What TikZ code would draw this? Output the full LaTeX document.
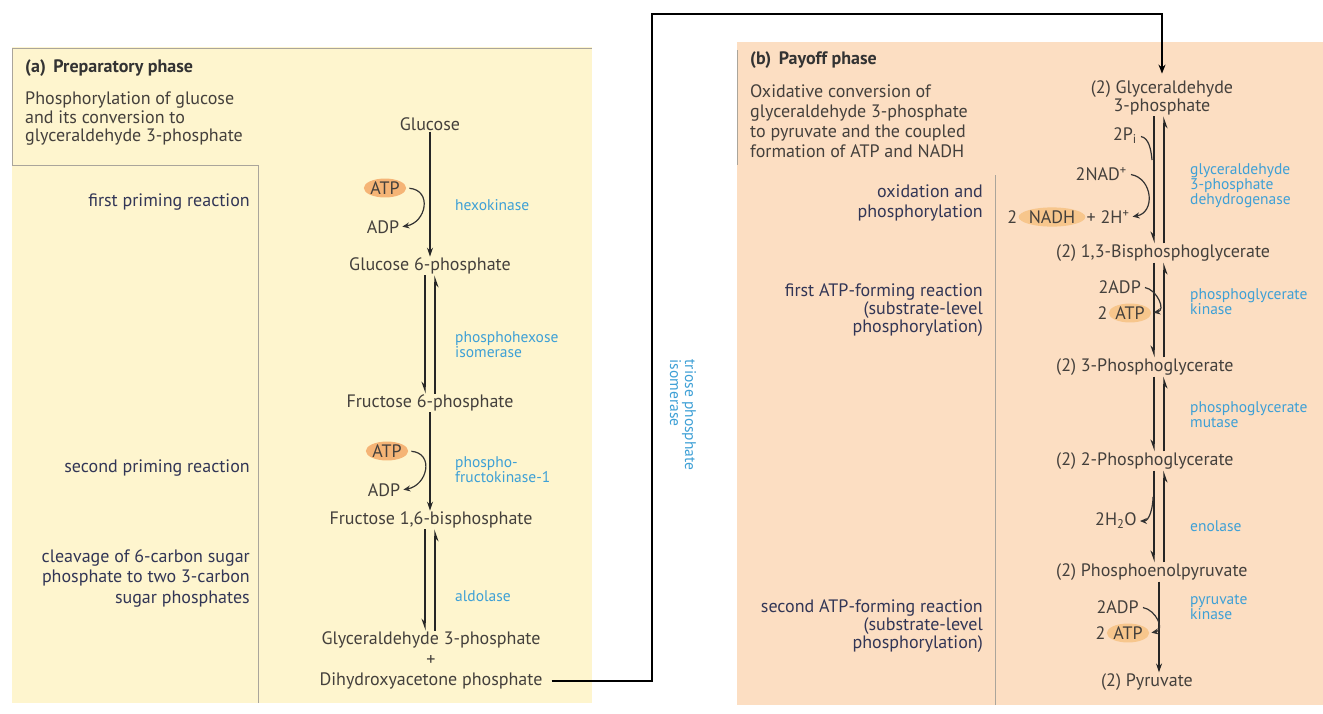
\documentclass[tikz,border=0pt]{standalone}
\usepackage{fontspec}
\setmainfont{PT Sans}
\usetikzlibrary{positioning, arrows.meta, shapes.geometric}

\definecolor{prepbg}{RGB}{254,245,206}
\definecolor{payoffbg}{RGB}{252,222,194}
\definecolor{frameln}{RGB}{170,165,155}
\definecolor{txtc}{RGB}{68,64,60}
\definecolor{labc}{RGB}{50,54,86}
\definecolor{enzc}{RGB}{62,160,214}
\definecolor{hlA}{RGB}{245,180,118}
\definecolor{hlB}{RGB}{247,198,140}

\begin{document}
\begin{tikzpicture}[
    x=1pt, y=-1pt,
    cmpd/.style={font=\fontsize{18}{18}\selectfont, text=txtc, inner sep=1pt, align=center},
    lab/.style={font=\fontsize{18}{18}\selectfont, text=labc, align=right, anchor=east, inner sep=0pt},
    enz/.style={font=\fontsize{15.5}{15}\selectfont, text=enzc, align=left, anchor=west, inner sep=0pt},
    desc/.style={font=\fontsize{18}{18.5}\selectfont, text=txtc, align=left, anchor=west, inner sep=0pt},
    head/.style={font=\bfseries\fontsize{18}{18}\selectfont, text=black!80, anchor=west, inner sep=0pt},
    hl/.style={ellipse, fill=hlA, inner sep=0.3pt},
    fwd/.style={-{Stealth[length=9pt,width=6pt]}, line width=1.3pt, draw=black!85},
    rev/.style={-{Stealth[harpoon,swap,length=10pt,width=7pt]}, line width=1.3pt, draw=black!85},
    side/.style={-{Stealth[length=7pt,width=6pt]}, line width=1.2pt, draw=black!80, shorten <=3pt, shorten >=2pt},
    sideln/.style={line width=1.2pt, draw=black!80, shorten <=3pt},
    link/.style={-{Stealth[length=9pt,width=7pt]}, line width=1.7pt, shorten <=8pt, shorten >=6pt},
    frame/.style={draw=frameln, line width=0.9pt},
]
\useasboundingbox (0,0) rectangle (1323,713);
\fill[white] (0,0) rectangle (1323,713);

% panel backgrounds
\fill[prepbg] (12,47) rectangle (592,703);
\fill[payoffbg] (737,42) rectangle (1323,705);
\draw[frame] (12,165) -- (12,48) -- (592,48);
\draw[frame] (12,165) -- (258,165) -- (258,703);
\draw[frame] (737,50) -- (737,165);
\draw[frame] (995,175) -- (995,705);

% columns for the arrows
\coordinate (colA) at (430,0);
\coordinate (colAd) at (425,0);
\coordinate (colAu) at (435,0);
\coordinate (colB) at (1159,0);
\coordinate (colBd) at (1154,0);
\coordinate (colBu) at (1164,0);

% (a) preparatory phase
\node[head] (titA) at (25,68) {(a)\, Preparatory phase};
\node[desc] (descA) at (25,119) {Phosphorylation of glucose\\and its conversion to\\glyceraldehyde 3-phosphate};

\node[lab] (prime1) at (250,202) {first priming reaction};
\node[lab] (prime2) at (250,468) {second priming reaction};
\node[lab, font=\fontsize{18}{20.5}\selectfont] (cleave) at (250,578) {cleavage of 6-carbon sugar\\phosphate to two 3-carbon\\sugar phosphates};

\node[cmpd] (glc) at (430,124) {Glucose};
\node[cmpd] (gsix) at (430,266) {Glucose 6-phosphate};
\node[cmpd] (fsix) at (430,403) {Fructose 6-phosphate};
\node[cmpd] (fbp) at (431,520) {Fructose 1,6-bisphosphate};
\node[cmpd] (gapa) at (431,640) {Glyceraldehyde 3-phosphate};
\node[cmpd] (plus) at (431,660) {+};
\node[cmpd] (dhap) at (431,681) {Dihydroxyacetone phosphate};

\node[cmpd, hl] (atpa1) at (385,188) {ATP};
\node[cmpd] (adpa1) at (383,227) {ADP};
\node[cmpd, hl] (atpa2) at (387,451) {ATP};
\node[cmpd] (adpa2) at (384,490) {ADP};

\node[enz] (hk) at (455,205) {hexokinase};
\node[enz] (pgi) at (455,345) {phosphohexose\\isomerase};
\node[enz] (pfk) at (455,470) {phospho-\\fructokinase-1};
\node[enz] (ald) at (455,596) {aldolase};

\draw[fwd] (glc.south -| colA) -- (gsix.north -| colA);
\draw[side] (atpa1.east) to[out=-5, in=10, looseness=1.7] (adpa1.east);
\draw[rev] (gsix.south -| colAd) -- (fsix.north -| colAd);
\draw[rev] (fsix.north -| colAu) -- (gsix.south -| colAu);
\draw[fwd] (fsix.south -| colA) -- (fbp.north -| colA);
\draw[side] (atpa2.east) to[out=-5, in=10, looseness=1.7] (adpa2.east);
\draw[rev] (fbp.south -| colAd) -- (gapa.north -| colAd);
\draw[rev] (gapa.north -| colAu) -- (fbp.south -| colAu);

% triose phosphate isomerase
\node[enz, rotate=-90, anchor=center] (tpi) at (683,415) {triose phosphate\\isomerase};

% (b) payoff phase
\node[head] (titB) at (750,60) {(b)\, Payoff phase};
\node[desc, font=\fontsize{18}{20}\selectfont] (descB) at (750,121) {Oxidative conversion of\\glyceraldehyde 3-phosphate\\to pyruvate and the coupled\\formation of ATP and NADH};

\node[lab, font=\fontsize{18}{20}\selectfont] (oxph) at (983,203) {oxidation and\\phosphorylation};
\node[lab] (atpform1) at (983,310) {first ATP-forming reaction\\(substrate-level\\phosphorylation)};
\node[lab] (atpform2) at (983,626) {second ATP-forming reaction\\(substrate-level\\phosphorylation)};

\node[cmpd] (gapb) at (1162,98) {(2) Glyceraldehyde\\3-phosphate};
\node[cmpd, anchor=west] (bpg) at (1055,253) {(2) 1,3-Bisphosphoglycerate};
\node[cmpd, anchor=west] (pgthree) at (1055,367) {(2) 3-Phosphoglycerate};
\node[cmpd, anchor=west] (pgtwo) at (1055,461) {(2) 2-Phosphoglycerate};
\node[cmpd, anchor=west] (pep) at (1055,572) {(2) Phosphoenolpyruvate};
\node[cmpd] (pyr) at (1147,682) {(2) Pyruvate};

\node[cmpd, anchor=east] (pib) at (1138,136) {2P\textsubscript{i}};
\node[cmpd, anchor=east] (nadb) at (1128,174) {2NAD\textsuperscript{+}};
\node[cmpd, hl, fill=hlB] (nadh) at (1052,217) {NADH};
\node[cmpd, left=0pt of nadh] (nadhtwo) {2};
\node[cmpd, right=0pt of nadh] (nadhplus) {+ 2H\textsuperscript{+}};

\node[cmpd, anchor=east] (adpb1) at (1142,287) {2ADP};
\node[cmpd, hl, fill=hlB] (atpb1) at (1130,313) {ATP};
\node[cmpd, left=0pt of atpb1] (atpb1two) {2};
\node[cmpd, anchor=east] (h2o) at (1138,521) {2H\textsubscript{2}O};
\node[cmpd, anchor=east] (adpb2) at (1140,607) {2ADP};
\node[cmpd, hl, fill=hlB] (atpb2) at (1128,633) {ATP};
\node[cmpd, left=0pt of atpb2] (atpb2two) {2};

\node[enz] (gapdh) at (1190,186) {glyceraldehyde\\3-phosphate\\dehydrogenase};
\node[enz] (pgk) at (1190,302) {phosphoglycerate\\kinase};
\node[enz] (pgm) at (1190,415) {phosphoglycerate\\mutase};
\node[enz] (eno) at (1190,526) {enolase};
\node[enz] (pk) at (1190,607) {pyruvate\\kinase};

\coordinate (gapj) at (1152,160);
\coordinate (enoj) at (1153,497);

\draw[rev] (gapb.south -| colBd) -- (bpg.north -| colBd);
\draw[rev] (bpg.north -| colBu) -- (gapb.south -| colBu);
\draw[sideln] (pib.east) to[out=-10, in=95] (gapj);
\draw[side] (nadb.east) to[out=-10, in=10, looseness=1.5] (nadhplus.east);

\draw[rev] (bpg.south -| colBd) -- (pgthree.north -| colBd);
\draw[rev] (pgthree.north -| colBu) -- (bpg.south -| colBu);
\draw[side] (adpb1.east) to[out=-10, in=10, looseness=1.4] (atpb1.east);

\draw[rev] (pgthree.south -| colBd) -- (pgtwo.north -| colBd);
\draw[rev] (pgtwo.north -| colBu) -- (pgthree.south -| colBu);

\draw[rev] (pgtwo.south -| colBd) -- (pep.north -| colBd);
\draw[rev] (pep.north -| colBu) -- (pgtwo.south -| colBu);
\draw[side, shorten <=0pt] (enoj) to[out=-90, in=0] (h2o.east);

\draw[fwd] (pep.south -| colB) -- (pyr.north -| colB);
\draw[side] (adpb2.east) to[out=-10, in=10, looseness=1.5] (atpb2.east);

% link between the two phases
\coordinate (turnA) at (652,14);
\draw[link] (dhap.east) -| (turnA) -| (gapb.north);
\end{tikzpicture}
\end{document}
